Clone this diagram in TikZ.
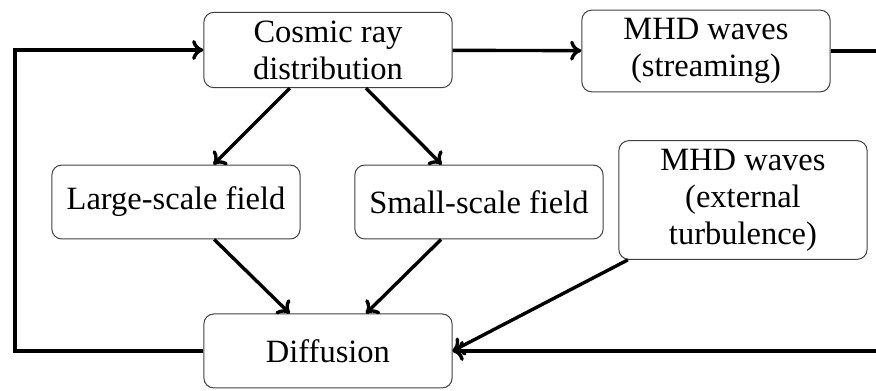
\documentclass[tikz,border=0pt]{standalone}
\usepackage{fontspec}
\setmainfont{Liberation Serif}
\usepackage{tikz}
\usetikzlibrary{arrows.meta,positioning,calc}

\begin{document}
\begin{tikzpicture}[
  font=\fontsize{13}{14.8}\selectfont,
  >={To[length=4.5pt,width=8pt]},
  block/.style={rectangle, rounded corners=4pt, draw=black!75, align=center,
                minimum width=3.49cm, minimum height=1.04cm, inner sep=3.3pt},
  flow/.style={->, line width=1.35pt},
]

\def\W{12.315}  \def\H{-5.483}
\def\fx{0.211}  \def\ox{12.7}

\useasboundingbox (0,0) rectangle (\W,\H);
\clip (0,0) rectangle (\W,\H);

% boxes
\node[block] (cr)   at (4.611,-0.703)  {Cosmic ray\\distribution};
\node[block] (str)  at (9.925,-0.717)  {MHD waves\\(streaming)};
\node[block] (lsf)  at (2.474,-2.840)  {Large-scale field};
\node[block] (ssf)  at (6.734,-2.840)  {Small-scale field};
\node[block] (ext)  at (10.445,-2.812) {MHD waves\\(external\\turbulence)};
\node[block] (diff) at (4.611,-4.934)  {Diffusion};

% corners of the two loops
\coordinate (lt) at (\fx,-0.703);
\coordinate (lb) at (\fx,-4.934);
\coordinate (rt) at (\ox,-0.717);
\coordinate (rb) at (\ox,-4.934);

% arrows
\draw[flow] (cr) -- (str);
\draw[flow] (cr) -- (lsf);
\draw[flow] (cr) -- (ssf);
\draw[flow] (lsf) -- (diff);
\draw[flow] (ssf) -- (diff);
\draw[flow] (ext) -- (diff.east);

% feedback loops
\draw[flow] (diff.west) -- (lb) -- (lt) -- (cr.west);
\draw[flow] (str.east) -- (rt) -- (rb) -- (diff.east);

\end{tikzpicture}
\end{document}
